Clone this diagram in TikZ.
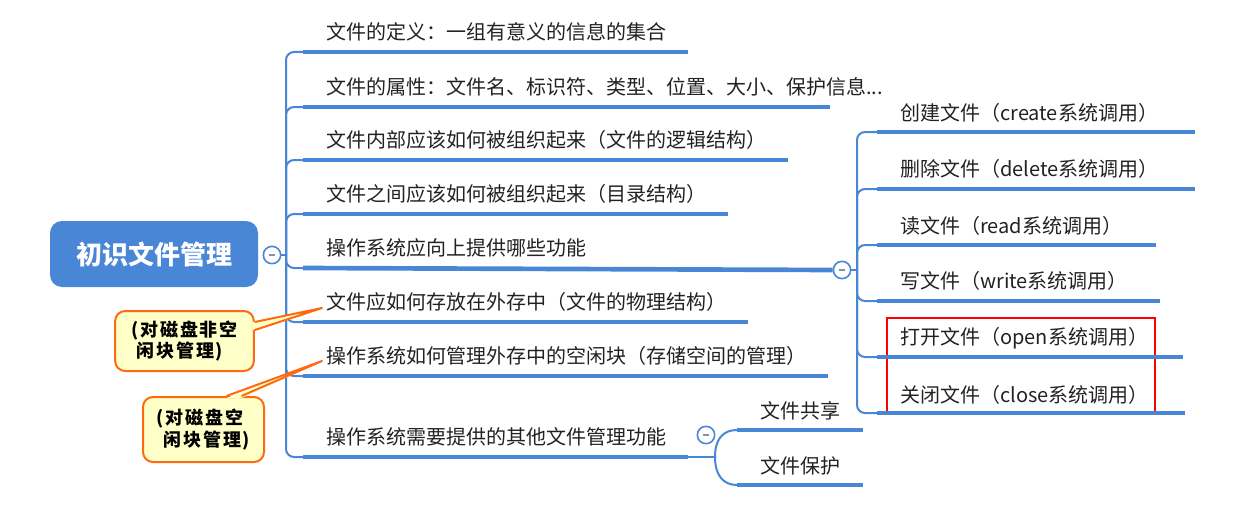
\documentclass[tikz,border=0pt]{standalone}
\usepackage{fontspec}
\setmainfont{Noto Sans CJK SC}
\usepackage{tikz}
\usetikzlibrary{calc}
\definecolor{colorB}{HTML}{4A86D6}
\definecolor{colorN}{HTML}{FFFFC8}
\definecolor{colorO}{HTML}{FF6A10}
\definecolor{colorM}{HTML}{7F93B6}
\definecolor{colorT}{HTML}{222222}

\begin{document}
\begin{tikzpicture}[x=0.75pt,y=-0.75pt,
        item/.style={anchor=west,inner sep=0pt,text=colorT,font=\fontsize{15}{18}\selectfont},
        conn/.style={colorB,line width=1.5pt,rounded corners=6pt},
        uline/.style={colorB,line width=3.5pt},
        fold/.style={circle,draw=colorB,fill=white,line width=1.2pt,minimum size=13pt,inner sep=0pt},
        note/.style={draw=colorO,fill=colorN,line width=1.5pt,rounded corners=7.5pt,align=left,inner sep=0pt,
            font=\fontsize{13.5}{16}\selectfont\bfseries\addfontfeature{LetterSpace=10}}]
        \useasboundingbox (0,0) rectangle (1242,510);

        \node[fill=colorB,rounded corners=9pt,minimum width=156pt,minimum height=49.5pt,text=white,
            font=\fontsize{19.5}{22}\selectfont\bfseries] (root) at (154,254) {初识文件管理};
        \node[fold] (c0) at (272,255) {\textcolor{colorM}{\rule{5pt}{1.2pt}}};
        \coordinate (s0) at (286,255);

        \node[item] (t1) at (326,32) {文件的定义：一组有意义的信息的集合};
        \node[item] (t2) at (326,87) {文件的属性：文件名、标识符、类型、位置、大小、保护信息...};
        \node[item] (t3) at (326,140) {文件内部应该如何被组织起来（文件的逻辑结构）};
        \node[item] (t4) at (326,194) {文件之间应该如何被组织起来（目录结构）};
        \node[item] (t5) at (326,248) {操作系统应向上提供哪些功能};
        \node[item] (t6) at (326,302) {文件应如何存放在外存中（文件的物理结构）};
        \node[item] (t7) at (326,356) {操作系统如何管理外存中的空闲块（存储空间的管理）};
        \node[item] (t8) at (326,437) {操作系统需要提供的其他文件管理功能};

        \coordinate (u1) at (303,52);  \coordinate (e1) at (688,52);
        \coordinate (u2) at (303,107); \coordinate (e2) at (830,107);
        \coordinate (u3) at (303,160); \coordinate (e3) at (788,160);
        \coordinate (u4) at (303,214); \coordinate (e4) at (728,214);
        \coordinate (u5) at (303,268);
        \coordinate (u6) at (303,322); \coordinate (e6) at (748,322);
        \coordinate (u7) at (303,376); \coordinate (e7) at (828,376);
        \coordinate (u8) at (303,457); \coordinate (e8) at (688,457);

        \draw[conn] (c0) -- (s0);
        \draw[conn] (s0) |- (u1);
        \draw[conn] (s0) |- (u2);
        \draw[conn] (s0) |- (u3);
        \draw[conn] (s0) |- (u4);
        \draw[conn] (s0) |- (u5);
        \draw[conn] (s0) |- (u6);
        \draw[conn] (s0) |- (u7);
        \draw[conn] (s0) |- (u8);

        \draw[uline] (u1) -- (e1);
        \draw[uline] (u2) -- (e2);
        \draw[uline] (u3) -- (e3);
        \draw[uline] (u4) -- (e4);
        \draw[uline] (u6) -- (e6);
        \draw[uline] (u7) -- (e7);
        \draw[uline] (u8) -- (e8);

        \node[fold] (c5) at (842,270) {\textcolor{colorM}{\rule{5pt}{1.2pt}}};
        \draw[uline] (u5) -- (c5.west);
        \coordinate (s5) at (857,270);

        \draw[red,line width=1.6pt] (887,318) rectangle (1155,414);

        \node[item] (r1) at (900,113) {创建文件（create系统调用）};
        \node[item] (r2) at (900,169) {删除文件（delete系统调用）};
        \node[item] (r3) at (900,226) {读文件（read系统调用）};
        \node[item] (r4) at (900,281) {写文件（write系统调用）};
        \node[item] (r5) at (900,338) {打开文件（open系统调用）};
        \node[item] (r6) at (900,395) {关闭文件（close系统调用）};

        \coordinate (v1) at (877,132); \coordinate (f1) at (1195,132);
        \coordinate (v2) at (877,189); \coordinate (f2) at (1195,189);
        \coordinate (v3) at (877,245); \coordinate (f3) at (1156,245);
        \coordinate (v4) at (877,301); \coordinate (f4) at (1160,301);
        \coordinate (v5) at (877,357); \coordinate (f5) at (1183,357);
        \coordinate (v6) at (877,413); \coordinate (f6) at (1185,413);

        \draw[conn] (c5) -- (s5);
        \draw[conn] (s5) |- (v1);
        \draw[conn] (s5) |- (v2);
        \draw[conn] (s5) |- (v3);
        \draw[conn] (s5) |- (v4);
        \draw[conn] (s5) |- (v5);
        \draw[conn] (s5) |- (v6);

        \draw[uline] (v1) -- (f1);
        \draw[uline] (v2) -- (f2);
        \draw[uline] (v3) -- (f3);
        \draw[uline] (v4) -- (f4);
        \draw[uline] (v5) -- (f5);
        \draw[uline] (v6) -- (f6);

        \node[fold] (c8) at (706,435) {\textcolor{colorM}{\rule{5pt}{1.2pt}}};
        \coordinate (j8) at (715,457);
        \node[item,anchor=center] (q1) at (800,411) {文件共享};
        \node[item,anchor=center] (q2) at (800,466) {文件保护};
        \coordinate (w1) at (737,430); \coordinate (g1) at (863,430);
        \coordinate (w2) at (737,485); \coordinate (g2) at (863,485);
        \draw[conn] (e8) -- (j8);
        \draw[conn] (j8) .. controls +(0,-18) and +(-14,0) .. (w1);
        \draw[conn] (j8) .. controls +(0,18) and +(-14,0) .. (w2);
        \draw[uline] (w1) -- (g1);
        \draw[uline] (w2) -- (g2);

        \node[note,minimum width=104pt,minimum height=45pt] (n1) at (184.5,341) {(对磁盘非空\\\hspace{4pt}闲块管理)};
        \coordinate (p1) at (322,308);
        \fill[colorN] ($(n1.east)+(-2,-19)$) -- (p1) -- ($(n1.east)+(-2,-11)$) -- cycle;
        \draw[colorO,line width=1.5pt,line join=round] ($(n1.east)+(0,-19)$) -- (p1) -- ($(n1.east)+(0,-11)$);

        \node[note,minimum width=90.75pt,minimum height=48.75pt] (n2) at (203.5,429.5) {(对磁盘空\\\hspace{5pt}闲块管理)};
        \coordinate (p2) at (322,361);
        \fill[colorN] ($(n2.north)+(23,2)$) -- (p2) -- ($(n2.north)+(38,2)$) -- cycle;
        \draw[colorO,line width=1.5pt,line join=round] ($(n2.north)+(23,0)$) -- (p2) -- ($(n2.north)+(38,0)$);
    \end{tikzpicture}
\end{document}
